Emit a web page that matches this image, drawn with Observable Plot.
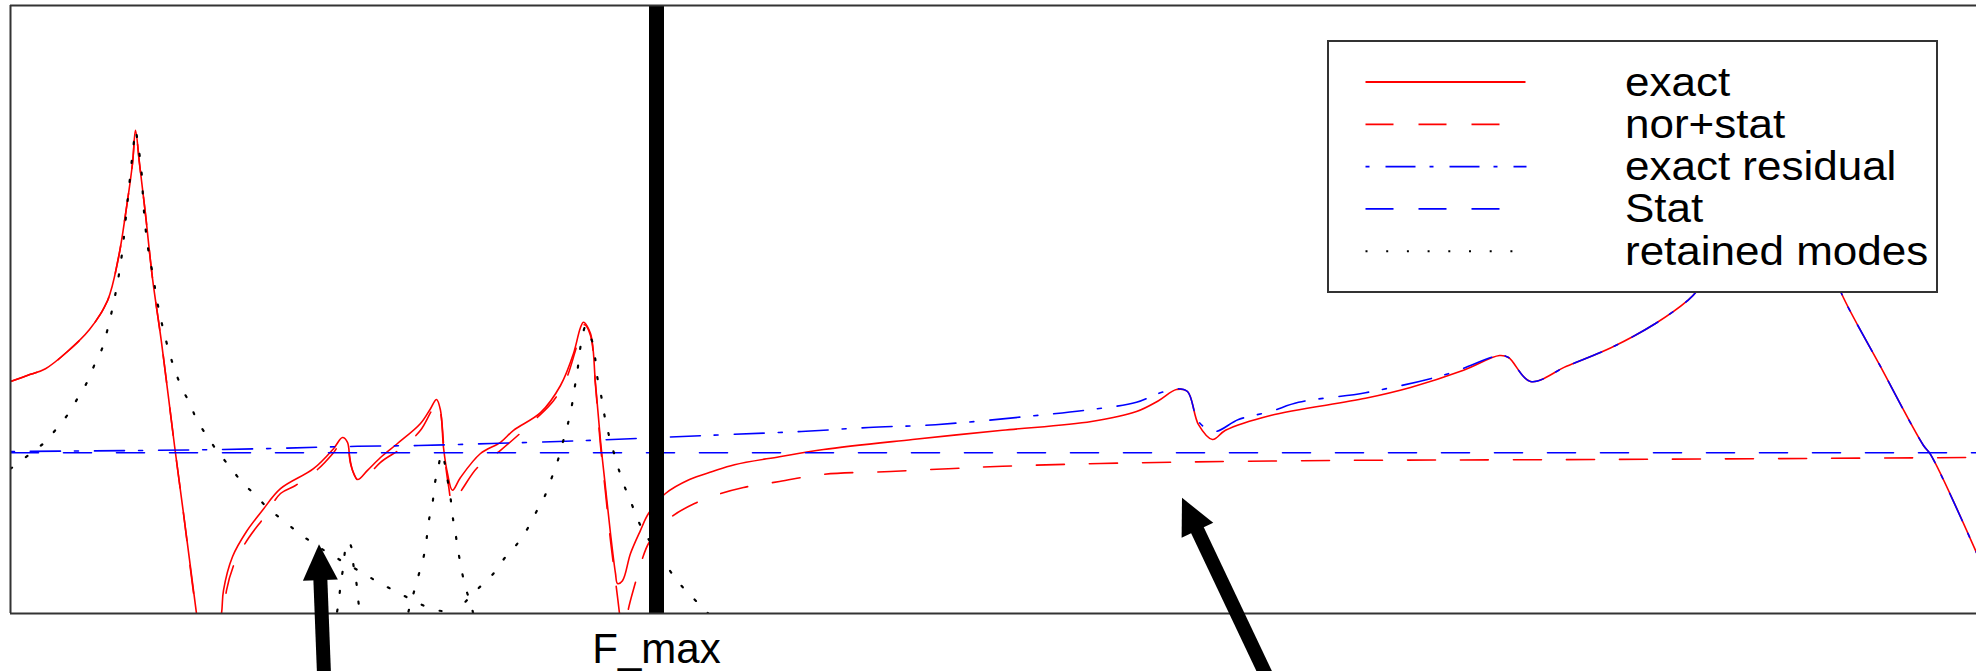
<!DOCTYPE html>
<html>
<head>
<meta charset="utf-8">
<script src="https://cdn.jsdelivr.net/npm/d3@7"></script>
<script src="https://cdn.jsdelivr.net/npm/@observablehq/plot@0.6"></script>
<style>
  html, body { margin: 0; padding: 0; background: #fff; overflow: hidden; }
  #chart { position: relative; width: 1976px; height: 671px; font-family: "Liberation Sans", Arial, sans-serif; }
  #legend { position: absolute; left: 1327px; top: 40px; width: 611px; height: 253px; box-sizing: border-box;
            border: 2px solid #333; background: #fff; }
  #legend svg { display: block; }
</style>
</head>
<body>
<div id="chart"><div id="legend"></div></div>
<script>
// ---- data: [frequency (Hz), level (dB)] ----
const exact = [
  [0,-67.0],[10,-66.1],[17.5,-65.4],[28.5,-63.25],[39.5,-60.5],[48.5,-56.9],[54,-51.5],[57.5,-46.1],[61,-39.75],
  [62.5,-35.6],[64.5,-39.75],[67.5,-46.1],[71,-54.1],[75.5,-62.1],[82,-75],[86.5,-83.5],[93,-96],[95.5,-100.6],
  [102,-100.6],[105.5,-96],[106.5,-93.1],[111,-88.9],[118,-85.75],[126,-83.1],[135,-80.4],[151.5,-77.9],[161.5,-75.4],
  [166,-74],[168.5,-74.6],[170,-77.25],[173.5,-79.25],[178.5,-78.1],[185,-76.5],[193.5,-74.75],[205,-72.25],[210,-70.4],
  [213,-69.25],[215,-70.6],[216.5,-75.25],[218.5,-78.5],[221,-80.6],[225,-79],[235,-76],[245,-74.6],[251.5,-73.1],
  [265,-70.9],[275,-67.5],[281.5,-63.5],[285,-60.25],[286.5,-59.6],[290,-61],[292.5,-67.25],[295,-74.4],[297.5,-80.25],
  [300,-86],[302.5,-91],[303.5,-92.25],[306,-91.9],[310,-88.5],[315,-85.6],[319,-83.5],[327.5,-81],[339.5,-79.25],
  [351,-78.25],[362,-77.4],[384.5,-76.4],[406.5,-75.5],[451,-74.25],[496,-73.1],[540.5,-72],[563,-70.75],[574,-69.4],
  [583,-68],[588.5,-68.25],[594,-72.4],[601,-74.25],[607.5,-73.1],[630,-71.25],[677.5,-69.1],[700,-67.75],[726.5,-65.6],
  [744.5,-63.75],[749,-64],[760,-67],[778,-65.1],[800.5,-62.75],[822.5,-59.75],[838.5,-56.9],[843,-55.75],[855,-50.6],
  [867.5,-41.9],[877.5,-31.9],[882.5,-28.75],[889,-31.9],[897.5,-41.9],[907.5,-50.6],[915.5,-56.0],[934.5,-64.9],
  [956.5,-75],[960,-76.1],[983,-88.4]
];
const norStat = [
  [0,-67.0],[10,-66.1],[17.5,-65.4],[28.5,-63.25],[39.5,-60.5],[48.5,-56.9],[54,-51.5],[57.5,-46.1],[61,-39.75],
  [62.5,-35.6],[64.5,-39.75],[67.5,-46.1],[71,-54.1],[75.5,-62.1],[82,-75],[86.5,-83.5],[93,-96],[96.5,-100.6],
  [103,-100.6],[107,-96],[108,-93.1],[112.5,-89.4],[119.5,-86.4],[127.5,-83.75],[135,-81],[142.5,-80],[153.5,-78],
  [161.5,-75.9],[166,-74.4],[168,-74.75],[171,-78.1],[174.5,-79.6],[176.5,-79.4],[185,-77.1],[196,-75.25],[205,-73.1],
  [210,-70.9],[213,-69.6],[215,-70.9],[217,-76.25],[219,-80],[221,-82.25],[226,-80.4],[233.5,-77.75],[245,-75.6],
  [263,-71.6],[271.5,-69.4],[277.5,-66.9],[282.5,-63.1],[285.5,-60.4],[287,-59.9],[290,-61.25],[292.5,-67.5],[295,-75],
  [297.5,-80.9],[300,-86.9],[302.5,-91.9],[304.5,-96],[306.5,-100.6],[308.5,-96],[312.5,-92.1],[316,-89.1],[319,-87.25],
  [325,-85.25],[330.5,-83.9],[342,-82.25],[354,-81.1],[366.5,-80.25],[384.5,-79.5],[406.5,-78.6],[440,-78.25],
  [469,-77.9],[496,-77.6],[545,-77.25],[645,-76.9],[795,-76.75],[983,-76.5]
];
const exactResidual = [
  [0,-75.75],[106.5,-75.5],[173.5,-75.1],[204,-75],[240.5,-74.75],[274,-74.5],[301,-74.25],[333,-73.9],[362,-73.6],
  [395.5,-73.25],[429,-72.75],[462.5,-72.4],[507,-71.4],[540.5,-70.5],[563,-69.6],[574,-68.5],[583,-67.9],[588.5,-68.25],
  [594,-72],[602,-73.25],[614,-71.75],[630,-70.75],[644,-69.6],[677.5,-68.4],[718,-66.1],[744.5,-63.75],[749,-64],
  [760,-67],[778,-65.1],[800.5,-62.75],[822.5,-59.75],[838.5,-56.9],[843,-55.75],[855,-50.6],[867.5,-41.9],[877.5,-31.9],
  [882.5,-28.75],[889,-31.9],[897.5,-41.9],[907.5,-50.6],[915.5,-56.0],[934.5,-64.9],[956.5,-75],[960,-76.1],[983,-88.4]
];
const stat = [[0,-75.9],[983,-75.9]];
const mode1 = [
  [0,-77.9],[9.5,-76.1],[17.5,-74.5],[23,-72.9],[29,-71],[34,-68.9],[38.5,-67],[42,-64.9],[46,-62.75],[48.5,-60.5],
  [52.5,-56],[55.5,-51.5],[58.5,-44.5],[61.5,-37.5],[62.5,-35.6],[63.5,-36.9],[65.5,-40.75],[66.5,-45],[68.5,-49.9],
  [71.5,-54.1],[73,-56.5],[75,-59],[77,-61.1],[79.5,-63.5],[82,-65.4],[85.5,-67.75],[90,-69.9],[93,-71.75],[98.5,-73.9],
  [103.5,-75.75],[109.5,-77.6],[115.5,-79.5],[122,-81.1],[129,-82.9],[136.5,-84.4],[144.5,-86],[151.5,-87.25],[160,-88.6],
  [176.5,-91],[185,-92.25],[194,-93.4],[203,-94.6],[211.5,-95.5],[219,-95.9],[230,-97.5]
];
const mode2 = [
  [161.5,-98.1],[164,-94.75],[165,-92.5],[166.5,-90],[167.5,-87.9],[169,-87],[170.5,-87.75],[171.5,-90],[173,-92.25],
  [174,-94.6],[176,-98.1]
];
const mode3 = [
  [197,-98.1],[199,-95.75],[201.5,-93.5],[204,-91.25],[206.5,-89],[208,-86.75],[209,-84.6],[211,-82.25],[212,-80],
  [214,-77.6],[215.5,-76],[217,-77.1],[218.5,-79.25],[220,-81.5],[221,-83.75],[222.5,-86],[224,-88.4],[225.5,-90.5],
  [227.5,-92.75],[230.5,-95.1],[233,-98.1]
];
const mode4 = [
  [215,-98.1],[222.5,-95.9],[228.5,-94.25],[235,-92.6],[241.5,-91],[247,-89.1],[253.5,-87.25],[258.5,-85.4],[263,-83.25],
  [267,-81.4],[270.5,-79.1],[273.5,-77],[276,-74.75],[278.5,-72.5],[280.5,-70.25],[282,-67.9],[283.5,-65.6],[284.5,-63.5],
  [286,-61.25],[287.5,-60.1],[289,-60.9],[291,-62.1],[292.5,-64.4],[293.5,-66.6],[295.5,-69],[297,-71.25],[299,-73.5],
  [301.5,-75.75],[304,-77.9],[307,-80.1],[310.5,-82.25],[314,-84.5],[318.5,-86.5],[329,-90.4],[335,-92.4],[341,-94],
  [348,-95.75],[355,-98.1]
];
const fMax = 323;
const fMaxLabel = "F_max";
const seriesNames = ["exact", "nor+stat", "exact residual", "Stat", "retained modes"];
const arrows = [
  {tailF: 157.5, tailDb: -106.9, tipF: 154.5, tipDb: -87.4},
  {tailF: 634, tailDb: -106.9, tipF: 586, tipDb: -81.6}
];

// ---- styles ----
const styles = {
  "exact":          {stroke: "#ff0000", dash: null},
  "nor+stat":       {stroke: "#ff0000", dash: "28 25"},
  "exact residual": {stroke: "#0000ff", dash: "4 16 30 14"},
  "Stat":           {stroke: "#0000ff", dash: "28 25"},
  "retained modes": {stroke: "#000000", dash: "2 17"}
};
const modes = [mode1, mode2, mode3, mode4].flatMap((m, i) => m.map(([f, db]) => ({f, db, mode: i + 1})));
const toRows = arr => arr.map(([f, db]) => ({f, db}));

function arrowsMark(index, scales) {
  const g = d3.create("svg:g");
  for (const a of arrows) {
    const x1 = scales.x(a.tailF), y1 = scales.y(a.tailDb);
    const x2 = scales.x(a.tipF), y2 = scales.y(a.tipDb);
    const L = Math.hypot(x2 - x1, y2 - y1), ux = (x2 - x1) / L, uy = (y2 - y1) / L;
    const hl = 36, hw = 17.5;
    const bx = x2 - ux * hl, by = y2 - uy * hl;
    g.append("line").attr("x1", x1).attr("y1", y1).attr("x2", bx + ux * 3).attr("y2", by + uy * 3)
      .attr("stroke", "#000").attr("stroke-width", 14);
    g.append("path")
      .attr("d", `M${x2},${y2}L${bx - uy * hw},${by + ux * hw}L${bx + uy * hw},${by - ux * hw}Z`)
      .attr("fill", "#000");
  }
  return g.node();
}

const lineOpts = (name, extra = {}) => ({
  x: "f", y: "db", stroke: styles[name].stroke, strokeWidth: 1.6, curve: "catmull-rom",
  strokeDasharray: styles[name].dash ?? undefined, clip: true, ...extra
});

const plot = Plot.plot({
  width: 1976,
  height: 671,
  marginLeft: 10,
  marginRight: 0,
  marginTop: 5,
  marginBottom: 58,
  style: {fontFamily: "'Liberation Sans', Arial, sans-serif", background: "#fff", overflow: "hidden"},
  x: {domain: [0, 983], axis: null},
  y: {domain: [-96, -20], axis: null},
  marks: [
    Plot.line(toRows(exact), lineOpts("exact")),
    Plot.line(toRows(norStat), lineOpts("nor+stat")),
    Plot.line(toRows(exactResidual), lineOpts("exact residual")),
    Plot.line(toRows(stat), lineOpts("Stat", {curve: "linear"})),
    Plot.line(modes, lineOpts("retained modes", {z: "mode", strokeWidth: 2.2})),
    Plot.ruleX([fMax], {stroke: "#000", strokeWidth: 15}),
    Plot.ruleX([0], {stroke: "#333", strokeWidth: 2}),
    Plot.ruleY([-20, -96], {stroke: "#333", strokeWidth: 2}),
    Plot.text([fMax], {x: d => d, frameAnchor: "bottom", text: () => fMaxLabel, lineAnchor: "top",
                       dy: 20, fontSize: 42, fill: "#000"}),
    arrowsMark
  ]
});
const chart = document.getElementById("chart");
chart.insertBefore(plot, chart.firstChild);
plot.style.position = "absolute";
plot.style.left = "0px";
plot.style.top = "0px";

// ---- legend ----
const lg = d3.select("#legend").append("svg").attr("width", 607).attr("height", 249)
  .style("font-family", "'Liberation Sans', Arial, sans-serif");
const swatchLen = {"exact": 160, "nor+stat": 158, "exact residual": 161, "Stat": 158, "retained modes": 148};
seriesNames.forEach((name, i) => {
  const yy = 40 + i * 42.3;
  lg.append("line").attr("x1", 36.5).attr("x2", 36.5 + swatchLen[name]).attr("y1", yy).attr("y2", yy)
    .attr("stroke", styles[name].stroke).attr("stroke-width", name === "retained modes" ? 2 : 1.8)
    .attr("stroke-dasharray", name === "retained modes" ? "2 18.7" : styles[name].dash);
  lg.append("text").attr("transform", `translate(296,${yy + 13.5}) scale(1.1,1)`)
    .attr("font-size", 40).attr("fill", "#000").text(name);
});
</script>
</body>
</html>
